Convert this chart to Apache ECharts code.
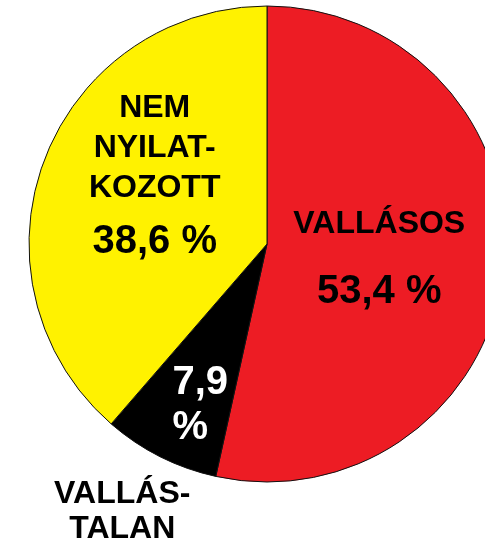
<!DOCTYPE html>
<html><head><meta charset="utf-8">
<script src="https://cdn.jsdelivr.net/npm/echarts@6/dist/echarts.min.js"></script>
<style>html,body{margin:0;padding:0;background:#fff}#c{width:485px;height:544px}</style>
</head><body><div id="c"></div>
<script>
// ---- data ----
const categories = ['VALLÁSOS', 'VALLÁSTALAN', 'NEM NYILATKOZOTT'];
const nameLabels = ['VALLÁSOS', 'VALLÁS-\nTALAN', 'NEM\nNYILAT-\nKOZOTT'];
const values = [53.4, 7.9, 38.6];

// ---- styles / layout ----
const colors = ['#ED1C24', '#000000', '#FFF200'];
const insideOffsets = [[-9, 1], [-12, 52], [2, -19]];
const outsideOffsets = [null, [-90, 159], null];
const FONT = '"Liberation Sans", Arial, sans-serif';

const fmt = v => v.toFixed(1).replace('.', ',') + ' %';
const tag = (style, txt) => txt.split('\n').map(s => `{${style}|${s}}`).join('\n');

const insideText = [
  tag('a', nameLabels[0]) + '\n' + tag('b', fmt(values[0])),
  tag('w', fmt(values[1]).replace(' ', '\n')),
  tag('c', nameLabels[2]) + '\n' + tag('b', fmt(values[2]))
];

const rich = {
  a: { fontFamily: FONT, fontWeight: 'bold', fontSize: 32, lineHeight: 68, color: '#000' },
  b: { fontFamily: FONT, fontWeight: 'bold', fontSize: 40, lineHeight: 68, color: '#000' },
  c: { fontFamily: FONT, fontWeight: 'bold', fontSize: 32, lineHeight: 40, color: '#000' },
  w: { fontFamily: FONT, fontWeight: 'bold', fontSize: 40, lineHeight: 45, color: '#fff', align: 'left' },
  n: { fontFamily: FONT, fontWeight: 'bold', fontSize: 32, lineHeight: 35, color: '#000' }
};

const mainData = categories.map((c, i) => ({
  name: c, value: values[i],
  itemStyle: { color: colors[i] },
  label: { formatter: insideText[i] }
}));
const nameData = categories.map((c, i) => ({
  name: c, value: values[i],
  label: { show: !!outsideOffsets[i], formatter: tag('n', nameLabels[i]) }
}));

const chart = echarts.init(document.getElementById('c'), null, { renderer: 'canvas' });
chart.setOption({
  animation: false,
  series: [
    {
      type: 'pie', center: [267, 244], radius: 238, startAngle: 90, clockwise: true,
      silent: true,
      itemStyle: { borderColor: '#111', borderWidth: 1 },
      label: { show: true, position: 'inside', rich: rich },
      labelLine: { show: false },
      labelLayout: p => { const o = insideOffsets[p.dataIndex]; return { dx: o[0], dy: o[1] }; },
      data: mainData
    },
    {
      type: 'pie', center: [267, 244], radius: 238, startAngle: 90, clockwise: true,
      silent: true, z: 3,
      itemStyle: { color: 'rgba(0,0,0,0)', borderWidth: 0 },
      label: { show: true, position: 'inside', rich: rich },
      labelLine: { show: false },
      labelLayout: p => { const o = outsideOffsets[p.dataIndex] || [0, 0]; return { dx: o[0], dy: o[1] }; },
      data: nameData
    }
  ]
});
</script>
</body></html>
